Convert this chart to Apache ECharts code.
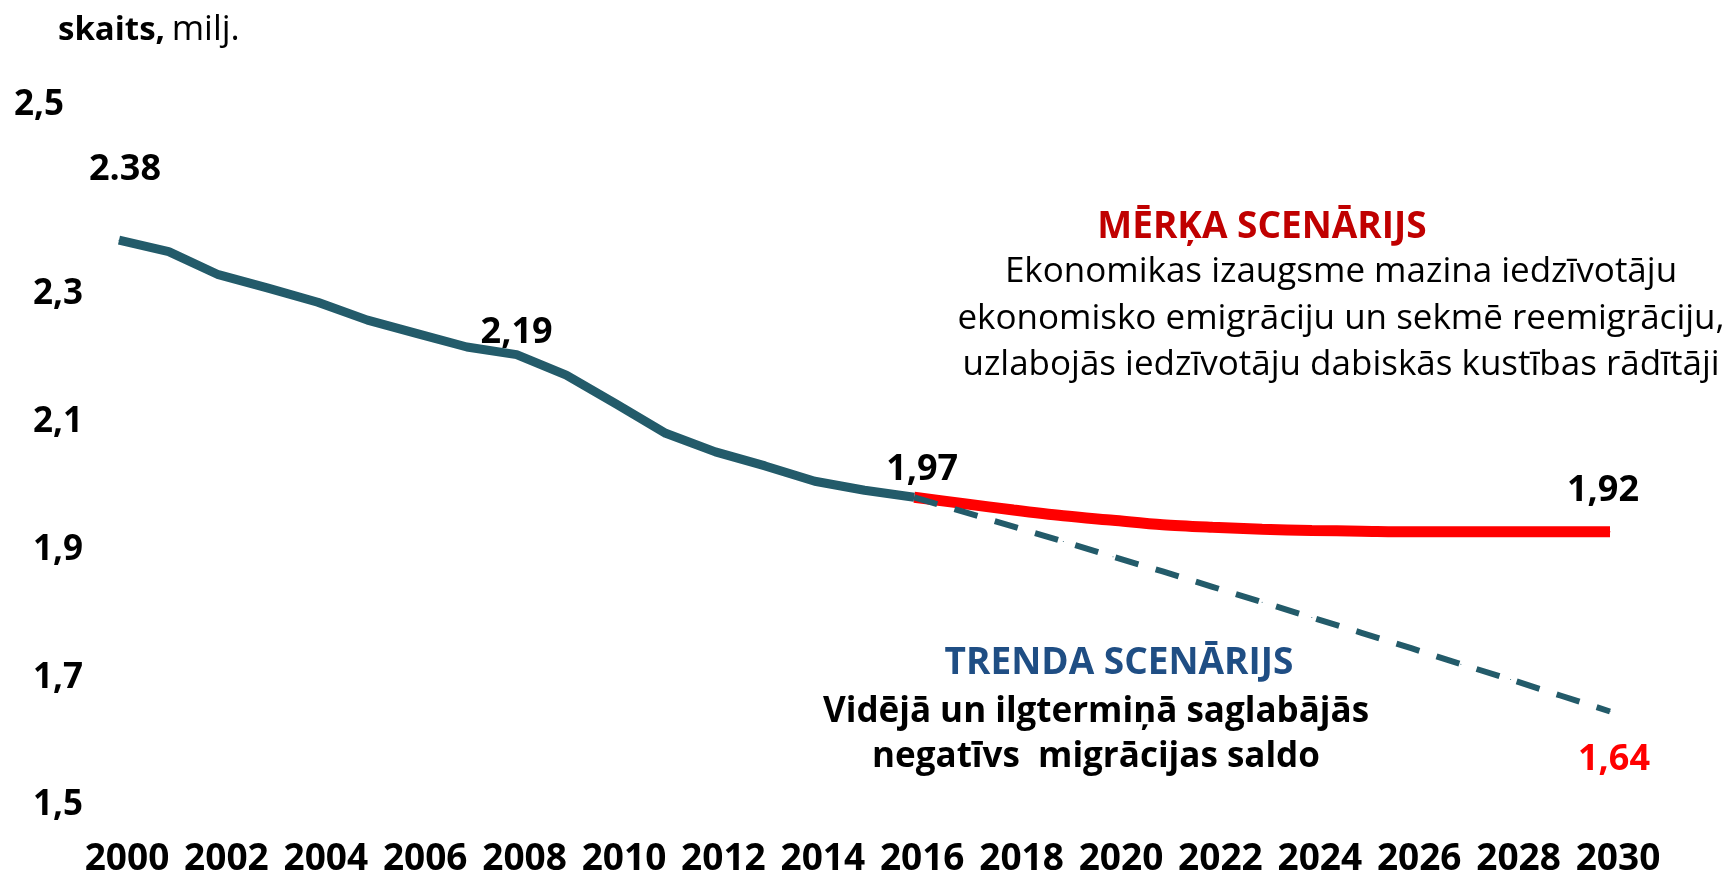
<!DOCTYPE html>
<html>
<head>
<meta charset="utf-8">
<title>Iedzīvotāju skaits</title>
<script src="https://cdn.jsdelivr.net/npm/echarts@6/dist/echarts.min.js"></script>
<style>
  html,
  body,
  #main {
    margin: 0;
    padding: 0;
    width: 1731px;
    height: 878px;
    overflow: hidden;
    background: #fff;
  }
</style>
</head>
<body>
<div id="main"></div>
<script>
// gadi uz x ass
const years = ["2000", "2001", "2002", "2003", "2004", "2005", "2006", "2007", "2008", "2009",
  "2010", "2011", "2012", "2013", "2014", "2015", "2016", "2017", "2018", "2019",
  "2020", "2021", "2022", "2023", "2024", "2025", "2026", "2027", "2028", "2029", "2030"];

// faktiskais skaits 2000-2016, milj.
const actual = [2.384, 2.366, 2.330, 2.309, 2.287, 2.259, 2.238, 2.217, 2.205, 2.173,
  2.128, 2.082, 2.053, 2.031, 2.007, 1.993, 1.982];

// mērķa scenārijs 2016-2030
const target = [1.982, 1.972, 1.962, 1.953, 1.946, 1.939, 1.935, 1.932, 1.930, 1.929,
  1.928, 1.928, 1.928, 1.928, 1.928];

// trenda scenārijs 2016-2030
const trend = [1.982, 1.959, 1.936, 1.913, 1.889, 1.866, 1.842, 1.818, 1.794, 1.770,
  1.746, 1.721, 1.697, 1.672, 1.647];

// y ass iedaļas
const yTicks = [1.5, 1.7, 1.9, 2.1, 2.3, 2.5];

// punktu uzraksti: [sērija, gads, teksts]
const pointLabels = [
  ["actual", "2000", "2.38"],
  ["actual", "2008", "2,19"],
  ["actual", "2016", "1,97"],
  ["target", "2030", "1,92"],
  ["trend", "2030", "1,64"],
];

const FONT = '"Open Sans", "Noto Sans", sans-serif';
const TEAL = "#235B6A";
const RED = "#FF0000";

// uzrakstu nobīdes un krāsas
const labelStyle = {
  "actual2000": { offset: [6, -70], color: "#000" },
  "actual2008": { offset: [0, -22], color: "#000" },
  "actual2016": { offset: [8, -28], color: "#000" },
  "target2030": { offset: [-7, -41], color: "#000" },
  "trend2030": { offset: [4, 48], color: RED },
};

const startIdx = years.indexOf("2016");

function pad(arr, start) {
  return years.map((y, i) => (i >= start && i - start < arr.length ? arr[i - start] : null));
}

const seriesData = {
  actual: pad(actual, 0),
  target: pad(target, startIdx),
  trend: pad(trend, startIdx),
};

pointLabels.forEach(([name, year, text]) => {
  const i = years.indexOf(year);
  const st = labelStyle[name + year];
  seriesData[name][i] = {
    value: seriesData[name][i],
    label: {
      show: true,
      position: "inside",
      offset: st.offset,
      formatter: text,
      color: st.color,
      fontFamily: FONT,
      fontWeight: "bold",
      fontSize: 36,
    },
  };
});

const myChart = echarts.init(document.getElementById("main"));

const lineBase = {
  type: "line",
  symbol: "circle",
  symbolSize: 1,
  showSymbol: true,
  connectNulls: false,
  animation: false,
  silent: true,
};

// teksta bloks uz grafika
function note(text, x, y, size, weight, color) {
  return {
    type: "text",
    x: x,
    y: y,
    style: {
      text: text,
      fill: color,
      fontFamily: FONT,
      fontWeight: weight,
      fontSize: size,
      align: "center",
      verticalAlign: "middle",
    },
  };
}

const option = {
  backgroundColor: "#fff",
  animation: false,
  grid: { left: 119, right: 121, top: 166, bottom: 68 },
  xAxis: {
    type: "category",
    boundaryGap: false,
    data: years,
    axisLine: { show: false },
    axisTick: { show: false },
    splitLine: { show: false },
    axisLabel: {
      interval: 1,
      margin: 54,
      verticalAlign: "middle",
      padding: [0, 0, 0, 16],
      color: "#000",
      fontFamily: FONT,
      fontWeight: "bold",
      fontSize: 37,
    },
  },
  yAxis: {
    type: "value",
    min: 1.5,
    max: 2.5,
    axisLine: { show: false },
    axisTick: { show: false },
    splitLine: { show: false },
    axisLabel: {
      customValues: yTicks,
      margin: 36,
      color: "#000",
      fontFamily: FONT,
      fontWeight: "bold",
      fontSize: 35,
      formatter: function (v) {
        const s = v.toFixed(1).replace(".", ",");
        return v > 2.45 ? "{top|" + s + "}" : s;
      },
      rich: {
        top: {
          color: "#000",
          fontFamily: FONT,
          fontWeight: "bold",
          fontSize: 35,
          padding: [0, 19, 121, 0],
        },
      },
    },
  },
  series: [
    Object.assign({}, lineBase, {
      name: "target",
      data: seriesData.target,
      smooth: 0.3,
      itemStyle: { color: RED },
      lineStyle: { color: RED, width: 11 },
      z: 2,
    }),
    Object.assign({}, lineBase, {
      name: "actual",
      data: seriesData.actual,
      itemStyle: { color: TEAL },
      lineStyle: { color: TEAL, width: 9, join: "round" },
      z: 3,
    }),
    Object.assign({}, lineBase, {
      name: "trend",
      data: seriesData.trend,
      itemStyle: { color: TEAL },
      lineStyle: { color: TEAL, width: 6, type: [24, 18] },
      z: 4,
    }),
  ],
  graphic: [
    {
      type: "text",
      left: 58,
      top: 13,
      style: {
        text: "{b|skaits,}  {n|milj.}",
        rich: {
          b: { fontFamily: FONT, fontWeight: "bold", fontSize: 33, fill: "#000" },
          n: { fontFamily: FONT, fontWeight: "normal", fontSize: 35, fill: "#000" },
        },
      },
    },
    note("MĒRĶA SCENĀRIJS", 1262, 227, 37, "bold", "#C00000"),
    note("Ekonomikas izaugsme mazina iedzīvotāju", 1341, 272, 35, "normal", "#000"),
    note("ekonomisko emigrāciju un sekmē reemigrāciju,", 1341, 319, 35, "normal", "#000"),
    note("uzlabojās iedzīvotāju dabiskās kustības rādītāji", 1341, 365, 35, "normal", "#000"),
    note("TRENDA SCENĀRIJS", 1119, 663, 37, "bold", "#1F4E84"),
    note("Vidējā un ilgtermiņā saglabājās", 1096, 712, 35, "bold", "#000"),
    note("negatīvs  migrācijas saldo", 1096, 757, 35, "bold", "#000"),
  ],
};

myChart.setOption(option);
window.onresize = myChart.resize;
</script>
</body>
</html>
